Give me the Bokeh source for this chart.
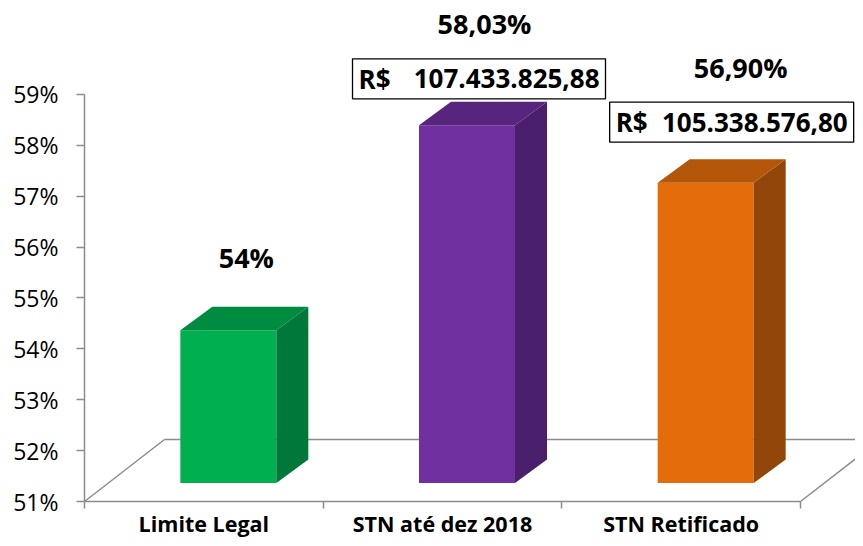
from bokeh.plotting import figure
from bokeh.models import Range1d, LinearAxis, FixedTicker, ColumnDataSource
from bokeh.embed import file_html
from bokeh.resources import INLINE
from bokeh.core.properties import value

# ---------------- data ----------------
categories = ["Limite Legal", "STN até dez 2018", "STN Retificado"]
percent_values = [54.0, 58.03, 56.90]
percent_labels = ["54%", "58,03%", "56,90%"]
currency_labels = ["", "R$", "R$"]
amount_labels = ["", "107.433.825,88", "105.338.576,80"]
y_ticks = [51, 52, 53, 54, 55, 56, 57, 58, 59]
y_tick_labels = ["51%", "52%", "53%", "54%", "55%", "56%", "57%", "58%", "59%"]

# ---------------- styles ----------------
front_colors = ["#00B050", "#7030A0", "#E46C0A"]
side_colors = ["#00783A", "#4A1F6B", "#934609"]
top_colors = ["#008C40", "#57257E", "#B3560A"]
AXIS_COLOR = "#8C8C8C"
FONT = "Open Sans"

W, H = 855, 538
PX_X = 238.67          # pixels per category
PX_Y = 50.9            # pixels per percent point
FRAME_LEFT = 84        # canvas x of the value axis
AXIS_BASE = 501        # canvas y of the 51% tick
BAR_SHIFT = 18.5 / PX_Y  # bars stand a bit behind the front of the floor

BAR_OFF = 24.5 / PX_X  # front face centre offset from category centre
BAR_W = 96 / PX_X
DEPTH_X = 32 / PX_X
DEPTH_Y = 23.5 / PX_Y
FLOOR_X = 80 / PX_X
FLOOR_Y = 62 / PX_Y

LABEL_DX_PX = [42.5, 42.0, 59.5]
LABEL_DY_PX = [73, 102, 115]
BOX_DX_PX = [0, 36.5, 50.5]
BOX_DY_PX = [0, 46.3, 60.5]
BOX_W_PX = [0, 253, 244]
BOX_H_PX = 40
BOX_PAD_L = 6
BOX_PAD_R = 6

n = len(categories)
idx = list(range(n))

x_range = Range1d(-0.5 - FRAME_LEFT / PX_X, -0.5 + (W - FRAME_LEFT) / PX_X)
y_start = y_ticks[0] - (H - AXIS_BASE) / PX_Y
y_end = y_ticks[0] + AXIS_BASE / PX_Y
y_range = Range1d(y_start, y_end)

p = figure(width=W, height=H, x_range=x_range, y_range=y_range,
           output_backend="svg", toolbar_location=None, min_border=0,
           x_axis_type=None, y_axis_type=None)
p.outline_line_color = None
p.background_fill_color = "white"
p.border_fill_color = "white"
p.extra_y_ranges = {"bar": Range1d(y_start - BAR_SHIFT, y_end - BAR_SHIFT)}

base = y_ticks[0]
lo, hi = -0.5, n - 0.5

# floor (front edge is the category axis line)
p.multi_line(xs=[[lo, lo + FLOOR_X], [lo + FLOOR_X, hi + FLOOR_X], [hi, hi + FLOOR_X]],
             ys=[[base, base + FLOOR_Y], [base + FLOOR_Y, base + FLOOR_Y], [base, base + FLOOR_Y]],
             line_color=AXIS_COLOR, line_width=1.5)

# bars
left = [i + BAR_OFF - BAR_W / 2 for i in idx]
right = [i + BAR_OFF + BAR_W / 2 for i in idx]
src = ColumnDataSource(dict(left=left, right=right, bottom=[base] * n, top=percent_values,
                            color=front_colors))
p.quad(left="left", right="right", bottom="bottom", top="top", source=src,
       fill_color="color", line_color=None, y_range_name="bar")

side_xs = [[r, r + DEPTH_X, r + DEPTH_X, r] for r in right]
side_ys = [[base, base + DEPTH_Y, v + DEPTH_Y, v] for v in percent_values]
p.patches(xs=side_xs, ys=side_ys, fill_color=side_colors, line_color=None, y_range_name="bar")
top_xs = [[l, r, r + DEPTH_X, l + DEPTH_X] for l, r in zip(left, right)]
top_ys = [[v, v, v + DEPTH_Y, v + DEPTH_Y] for v in percent_values]
p.patches(xs=top_xs, ys=top_ys, fill_color=top_colors, line_color=None, y_range_name="bar")

# percent labels
p.text(x=[i + dx / PX_X for i, dx in zip(idx, LABEL_DX_PX)],
       y=[v + dy / PX_Y for v, dy in zip(percent_values, LABEL_DY_PX)],
       text=percent_labels, text_align="center", text_baseline="middle",
       text_font=value(FONT), text_font_style="bold", text_font_size="27px",
       text_color="black", y_range_name="bar")

# amount boxes
bi = [i for i in idx if amount_labels[i]]
bx = [i + BOX_DX_PX[i] / PX_X for i in bi]
by = [percent_values[i] + BOX_DY_PX[i] / PX_Y for i in bi]
bw = [BOX_W_PX[i] for i in bi]
p.rect(x=bx, y=by, width=bw, height=BOX_H_PX,
       width_units="screen", height_units="screen",
       fill_color="white", line_color="black", line_width=1.3, y_range_name="bar")
p.text(x=[x - (w / 2 - BOX_PAD_L) / PX_X for x, w in zip(bx, bw)], y=by,
       text=[currency_labels[i] for i in bi], text_align="left",
       text_baseline="middle", text_font=value(FONT), text_font_style="bold",
       text_font_size="26px", text_color="black", y_range_name="bar")
p.text(x=[x + (w / 2 - BOX_PAD_R) / PX_X for x, w in zip(bx, bw)], y=by,
       text=[amount_labels[i] for i in bi], text_align="right",
       text_baseline="middle", text_font=value(FONT), text_font_style="bold",
       text_font_size="26px", text_color="black", y_range_name="bar")

# value axis
yaxis = LinearAxis(fixed_location=lo, bounds=(y_ticks[0], y_ticks[-1]),
                   ticker=FixedTicker(ticks=y_ticks, minor_ticks=[]),
                   major_label_overrides={t: l for t, l in zip(y_ticks, y_tick_labels)})
yaxis.axis_line_color = AXIS_COLOR
yaxis.axis_line_width = 1.5
yaxis.major_tick_line_color = AXIS_COLOR
yaxis.major_tick_line_width = 1.5
yaxis.major_tick_out = 8
yaxis.major_tick_in = 0
yaxis.minor_tick_line_color = None
yaxis.major_label_standoff = 18
yaxis.major_label_text_font = FONT
yaxis.major_label_text_font_size = "23px"
yaxis.major_label_text_color = "black"
p.add_layout(yaxis, "left")

# category axis
xaxis = LinearAxis(fixed_location=base, bounds=(lo, hi),
                   ticker=FixedTicker(ticks=idx, minor_ticks=[k - 0.5 for k in range(n + 1)]),
                   major_label_overrides={i: c for i, c in zip(idx, categories)})
xaxis.axis_line_color = AXIS_COLOR
xaxis.axis_line_width = 1.5
xaxis.major_tick_line_color = None
xaxis.major_tick_out = 0
xaxis.major_tick_in = 0
xaxis.minor_tick_line_color = AXIS_COLOR
xaxis.minor_tick_line_width = 1.5
xaxis.minor_tick_out = 7
xaxis.minor_tick_in = 0
xaxis.major_label_standoff = 0
xaxis.major_label_text_font = FONT
xaxis.major_label_text_font_style = "bold"
xaxis.major_label_text_font_size = "21.5px"
xaxis.major_label_text_color = "black"
p.add_layout(xaxis, "below")

open("out.html", "w").write(file_html(p, INLINE))
